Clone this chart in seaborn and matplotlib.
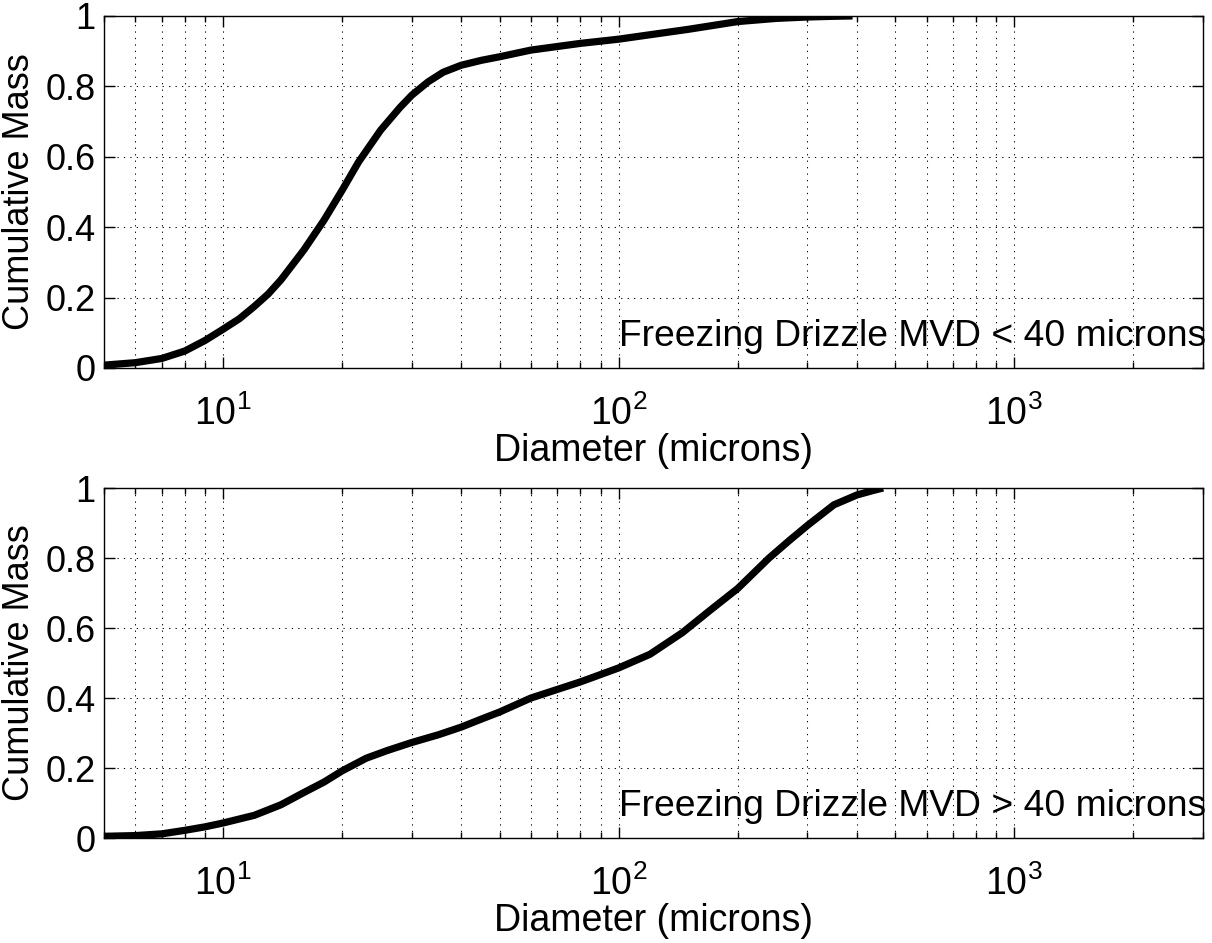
import numpy as np
import pandas as pd
import seaborn as sns
import matplotlib
matplotlib.use("Agg")
import matplotlib.pyplot as plt
from matplotlib.ticker import LogLocator, FixedLocator, NullFormatter

# cumulative mass curves
small_diam = [5, 6, 7, 8, 9, 10, 11, 12, 13, 14, 16, 18, 20, 22, 25, 28, 30, 33, 36, 40,
              45, 50, 60, 80, 100, 150, 200, 250, 300, 350, 390]
small_mass = [0.008, 0.015, 0.027, 0.048, 0.078, 0.11, 0.14, 0.175, 0.21, 0.25, 0.335,
              0.42, 0.505, 0.585, 0.675, 0.74, 0.775, 0.813, 0.84, 0.86,
              0.874, 0.884, 0.903, 0.922, 0.934, 0.962, 0.984, 0.993, 0.997, 0.999, 1.0]

large_diam = [5, 6, 7, 8, 9, 10, 12, 14, 16, 18, 20, 23, 26, 30, 35, 40, 45, 50,
              60, 80, 100, 120, 145, 170, 200, 240, 270, 300, 350, 400, 440, 466]
large_mass = [0.005, 0.007, 0.012, 0.022, 0.032, 0.043, 0.065, 0.095, 0.13, 0.16,
              0.192, 0.228, 0.25, 0.273, 0.295, 0.317, 0.34, 0.36,
              0.40, 0.446, 0.486, 0.525, 0.587, 0.65, 0.713, 0.80, 0.85, 0.893,
              0.952, 0.98, 0.993, 1.0]

panel_labels = ["Freezing Drizzle MVD < 40 microns", "Freezing Drizzle MVD > 40 microns"]
y_ticks = [0, 0.2, 0.4, 0.6, 0.8, 1]
y_ticklabels = ["0", "0.2", "0.4", "0.6", "0.8", "1"]

sns.set_theme(style="white")
plt.rcParams["font.family"] = ["Liberation Sans", "DejaVu Sans"]
plt.rcParams["mathtext.fontset"] = "custom"
plt.rcParams["mathtext.rm"] = "Liberation Sans"
plt.rcParams["mathtext.it"] = "Liberation Sans"

fs = 26
fig = plt.figure(figsize=(12.12, 9.43), dpi=100)
ax_top = fig.add_axes([0.0858, 0.6098, 0.9068, 0.3733])
ax_bot = fig.add_axes([0.0858, 0.1113, 0.9068, 0.3712])

dfs = [pd.DataFrame({"d": small_diam, "m": small_mass}),
       pd.DataFrame({"d": large_diam, "m": large_mass})]

for ax, df, lab in zip([ax_top, ax_bot], dfs, panel_labels):
    sns.lineplot(data=df, x="d", y="m", ax=ax, color="black", linewidth=5.2,
                 solid_capstyle="butt", solid_joinstyle="round", zorder=3)
    ax.set_xscale("log")
    ax.set_xlim(5, 3000)
    ax.set_ylim(0, 1)
    ax.xaxis.set_major_locator(LogLocator(base=10, numticks=10))
    ax.xaxis.set_minor_locator(LogLocator(base=10, subs=np.arange(2, 10), numticks=20))
    ax.xaxis.set_minor_formatter(NullFormatter())
    ax.yaxis.set_major_locator(FixedLocator(y_ticks))
    ax.set_yticklabels(y_ticklabels)

    grid_kw = dict(color="black", linewidth=0.75, linestyle=(0, (1.2, 5)))
    ax.grid(True, which="both", axis="x", **grid_kw)
    ax.grid(True, which="major", axis="y", **grid_kw)

    ax.tick_params(which="both", direction="in", top=True, right=True,
                   bottom=True, left=True, colors="black", labelsize=fs)
    ax.tick_params(which="major", length=8, width=1)
    ax.tick_params(which="minor", length=4.3, width=1)
    ax.tick_params(axis="x", which="major", pad=20, labelsize=27)
    ax.tick_params(axis="y", which="major", pad=6)
    for s in ax.spines.values():
        s.set_color("black")
        s.set_linewidth(1.0)

    ax.set_xlabel("Diameter (microns)", fontsize=27, color="black", labelpad=0)
    ax.set_ylabel("Cumulative Mass", fontsize=fs, color="black", labelpad=6)
    ax.text(100, 0.062, lab, fontsize=26.8, color="black", va="baseline", ha="left")

fig.savefig("out.png", dpi=100, facecolor="white")
